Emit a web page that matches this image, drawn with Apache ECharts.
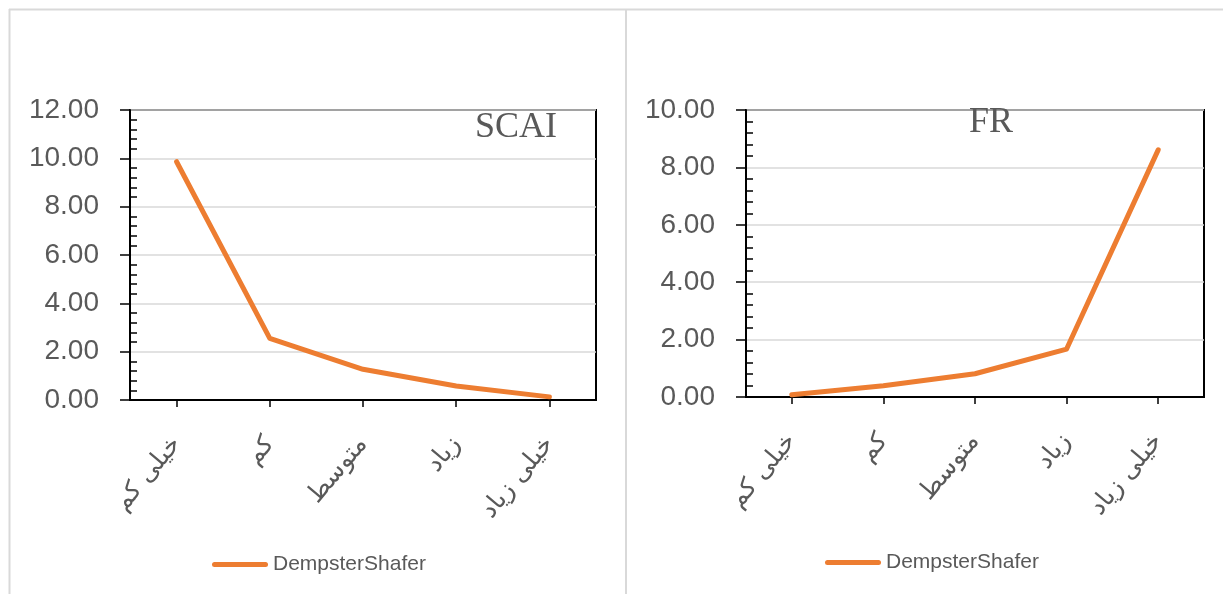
<!DOCTYPE html>
<html dir="ltr">
<head>
<meta charset="utf-8">
<title>DempsterShafer</title>
<script src="https://cdn.jsdelivr.net/npm/echarts@6/dist/echarts.min.js"></script>
<style>
  html, body { margin: 0; padding: 0; background: #ffffff; }
  #chart { width: 1223px; height: 594px; }
</style>
</head>
<body>
<div id="chart"></div>
<script>
// Susceptibility classes (x axis), shared by both panels
const categories = ['خیلی کم', 'کم', 'متوسط', 'زیاد', 'خیلی زیاد'];

// DempsterShafer values per class
const scaiValues = [9.86, 2.55, 1.27, 0.58, 0.13];
const frValues = [0.08, 0.39, 0.81, 1.67, 8.61];

// Panel titles and series name
const panelTitles = ['SCAI', 'FR'];
const seriesName = 'DempsterShafer';

// Y axis ranges
const yMax = [12, 10];
const yInterval = 2;

const ORANGE = '#ED7D31';
const TEXT = '#595959';
const FRAME = '#D9D9D9';

const chart = echarts.init(document.getElementById('chart'), null, { renderer: 'canvas' });

function xAxisFor(gridIndex) {
  return {
    type: 'category',
    gridIndex: gridIndex,
    data: categories,
    boundaryGap: true,
    axisLine: { show: true, lineStyle: { color: '#000', width: 2 } },
    axisTick: { show: true, alignWithLabel: true, length: 7, lineStyle: { color: '#000', width: 1.5 } },
    axisLabel: {
      rotate: 50,
      margin: 40,
      color: TEXT,
      fontSize: 25,
      fontFamily: "'DejaVu Sans', sans-serif",
      interval: 0
    },
    splitLine: { show: false }
  };
}

function yAxisFor(gridIndex) {
  return {
    type: 'value',
    gridIndex: gridIndex,
    min: 0,
    max: yMax[gridIndex],
    interval: yInterval,
    axisLine: { show: true, lineStyle: { color: '#000', width: 2 } },
    axisTick: { show: true, length: 10, lineStyle: { color: '#000', width: 1.5 } },
    // minor ticks point into the plot, major ticks point outward
    minorTick: { show: true, splitNumber: 5, length: -7, lineStyle: { color: '#000', width: 1.5 } },
    axisLabel: {
      margin: 31,
      color: TEXT,
      fontSize: 28,
      fontFamily: "'Liberation Sans', Arial, sans-serif",
      formatter: function (v) { return v.toFixed(2); }
    },
    splitLine: { show: true, lineStyle: { color: FRAME, width: 1.5 } },
    minorSplitLine: { show: false }
  };
}

function seriesFor(index, values) {
  return {
    name: seriesName,
    type: 'line',
    xAxisIndex: index,
    yAxisIndex: index,
    data: values,
    symbol: 'none',
    smooth: false,
    lineStyle: { color: ORANGE, width: 5, cap: 'round', join: 'round' },
    itemStyle: { color: ORANGE },
    emphasis: { disabled: true }
  };
}

// pill-shaped legend key, like a thick line with round caps
const legendKey = 'path://M2.5,0 L53.5,0 A2.5,2.5 0 0 1 53.5,5 L2.5,5 A2.5,2.5 0 0 1 2.5,0 Z';

const legendBase = {
  data: [{ name: seriesName, icon: legendKey }],
  orient: 'horizontal',
  padding: 0,
  itemWidth: 56,
  itemHeight: 5,
  itemStyle: { color: ORANGE, borderWidth: 0 },
  selectedMode: false,
  textStyle: { color: TEXT, fontSize: 21, fontFamily: "'Liberation Sans', Arial, sans-serif" }
};

const option = {
  backgroundColor: '#ffffff',
  animation: false,
  title: [
    {
      text: panelTitles[0], left: 475, top: 110, padding: 0,
      textStyle: { color: TEXT, fontSize: 36, fontWeight: 'normal', fontFamily: "'Liberation Serif', 'Times New Roman', serif" }
    },
    {
      text: panelTitles[1], left: 969, top: 105, padding: 0,
      textStyle: { color: TEXT, fontSize: 36, fontWeight: 'normal', fontFamily: "'Liberation Serif', 'Times New Roman', serif" }
    }
  ],
  legend: [
    Object.assign({}, legendBase, { left: 212, top: 554 }),
    Object.assign({}, legendBase, { left: 825, top: 552 })
  ],
  grid: [
    { left: 130, top: 110, width: 466, height: 290, show: true, borderColor: '#000', borderWidth: 2, backgroundColor: 'transparent', containLabel: false },
    { left: 746, top: 110, width: 458, height: 287, show: true, borderColor: '#000', borderWidth: 2, backgroundColor: 'transparent', containLabel: false }
  ],
  xAxis: [xAxisFor(0), xAxisFor(1)],
  yAxis: [yAxisFor(0), yAxisFor(1)],
  series: [seriesFor(0, scaiValues), seriesFor(1, frValues)],
  graphic: [
    // outer frame: top edge, left edge and divider between the two panels
    { type: 'line', silent: true, shape: { x1: 9, y1: 9.5, x2: 1223, y2: 9.5 }, style: { stroke: FRAME, lineWidth: 2 } },
    { type: 'line', silent: true, shape: { x1: 9.5, y1: 9, x2: 9.5, y2: 594 }, style: { stroke: FRAME, lineWidth: 2 } },
    { type: 'line', silent: true, shape: { x1: 626, y1: 9, x2: 626, y2: 594 }, style: { stroke: FRAME, lineWidth: 2 } }
  ]
};

chart.setOption(option);
</script>
</body>
</html>
